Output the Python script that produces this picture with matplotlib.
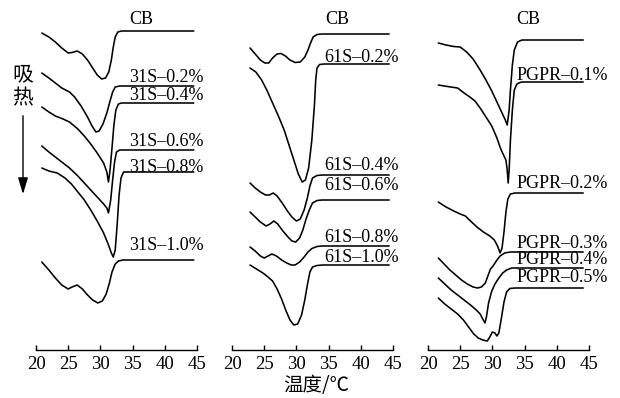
import matplotlib
matplotlib.use("Agg")
import matplotlib.pyplot as plt

plt.rcParams['font.family'] = ['Liberation Serif', 'DejaVu Serif']

# DSC curves, temperature (C) and endothermic depth (arbitrary units, plotted downward)
# ---- panel 1: 31S ----
cb1_t = [20.9, 22.0, 23.0, 24.0, 25.0, 25.6, 26.4, 27.2, 28.0, 28.8, 29.5, 30.2, 30.8, 31.3, 31.7, 32.0, 32.3, 32.7, 33.3, 44.5]
cb1_d = [33, 37, 42, 48, 53, 52.5, 51, 54, 60, 68, 75, 79, 78, 72, 60, 47, 37, 32, 31, 31]
s31_02_t = [20.9, 22.0, 23.0, 24.0, 25.2, 26.0, 27.0, 28.0, 28.7, 29.3, 29.8, 30.4, 31.0, 31.5, 31.9, 32.3, 33.0, 44.5]
s31_02_d = [73, 78, 83, 88, 92, 97, 106, 117, 126, 132, 131, 124, 113, 101, 92, 87, 86, 86]
s31_04_t = [20.9, 22.0, 23.0, 24.2, 25.2, 26.5, 27.5, 28.5, 29.5, 30.5, 31.0, 31.25, 31.5, 31.8, 32.1, 32.4, 32.8, 33.3, 44.5]
s31_04_d = [107, 112, 116, 119, 122, 129, 136, 144, 153, 163, 172, 182, 170, 148, 125, 110, 104, 103, 103]
s31_06_t = [20.9, 22.0, 23.0, 24.0, 25.2, 26.5, 27.5, 28.5, 29.5, 30.5, 31.0, 31.25, 31.6, 31.9, 32.2, 32.5, 33.0, 44.5]
s31_06_d = [146, 152, 157, 162, 168, 176, 183, 190, 197, 204, 208, 213, 200, 180, 162, 152, 150, 150]
s31_08_t = [20.9, 22.0, 23.3, 24.5, 25.5, 26.5, 27.5, 28.5, 29.5, 30.5, 31.2, 31.7, 32.0, 32.3, 32.6, 32.9, 33.2, 33.6, 44.5]
s31_08_d = [168, 171, 173, 178, 184, 192, 200, 210, 221, 233, 244, 253, 257, 250, 225, 195, 178, 172, 172]
s31_10_t = [20.9, 22.0, 23.0, 24.0, 25.0, 25.6, 26.4, 27.2, 28.0, 28.8, 29.6, 30.3, 30.9, 31.4, 31.8, 32.3, 32.8, 33.5, 44.5]
s31_10_d = [262, 270, 278, 285, 289, 287, 285, 289, 295, 300, 303, 301, 294, 283, 272, 264, 261, 260, 260]

# ---- panel 2: 61S ----
cb2_t = [22.8, 23.6, 24.4, 25.1, 25.7, 26.3, 27.0, 27.6, 28.3, 29.0, 29.8, 30.6, 31.3, 31.8, 32.2, 32.6, 33.2, 34.0, 44.4]
cb2_d = [48, 54, 60, 63, 63, 58, 54, 53.5, 56, 60, 62.5, 62, 57, 50, 43, 37, 34.5, 34, 34]
s61_02_t = [22.8, 23.7, 24.6, 25.4, 26.3, 27.2, 28.1, 28.9, 29.7, 30.3, 30.9, 31.4, 31.9, 32.4, 32.8, 33.0, 33.2, 33.6, 34.3, 44.4]
s61_02_d = [68, 72, 80, 90, 103, 116, 130, 146, 162, 174, 182, 180, 168, 140, 105, 80, 68, 64.5, 64, 64]
s61_04_t = [22.8, 23.6, 24.4, 25.2, 25.8, 26.4, 27.0, 27.8, 28.6, 29.3, 30.0, 30.6, 31.2, 31.7, 32.1, 32.5, 33.2, 34.0, 44.4]
s61_04_d = [183, 188, 192, 195, 195, 193, 196, 203, 211, 217, 221, 219, 210, 198, 186, 178, 175.5, 175, 175]
s61_06_t = [22.8, 23.6, 24.4, 25.3, 25.9, 26.5, 27.1, 27.9, 28.7, 29.3, 29.9, 30.5, 31.0, 31.5, 32.0, 32.5, 33.2, 34.0, 44.4]
s61_06_d = [212, 217, 222, 226, 224, 221, 224, 231, 237, 241, 242, 238, 230, 219, 210, 203, 200.5, 200, 200]
s61_08_t = [22.8, 23.6, 24.4, 25.0, 25.6, 26.2, 26.9, 27.7, 28.5, 29.2, 29.8, 30.5, 31.2, 31.8, 32.4, 33.2, 34.0, 44.4]
s61_08_d = [247, 251, 256, 258, 256, 254, 256, 260, 263, 265, 265, 262, 257, 252, 248.5, 246.5, 246, 246]
s61_10_t = [22.8, 23.8, 24.8, 25.6, 26.3, 27.0, 27.7, 28.4, 29.0, 29.6, 30.2, 30.8, 31.3, 31.7, 32.1, 32.5, 33.2, 34.0, 44.4]
s61_10_d = [265, 269, 273, 277, 281, 289, 299, 311, 320, 325, 324, 315, 300, 285, 272, 267, 265.5, 265, 265]

# ---- panel 3: PGPR ----
cb3_t = [21.6, 22.8, 24.0, 25.0, 26.0, 27.0, 28.0, 29.0, 29.9, 30.7, 31.5, 32.0, 32.3, 32.6, 32.8, 33.1, 33.4, 33.9, 34.6, 44.1]
cb3_d = [43, 45, 46.5, 47, 52, 59, 69, 80, 91, 102, 113, 120, 125, 110, 90, 65, 50, 42, 40, 40]
p_01_t = [21.6, 23.0, 24.6, 25.6, 26.5, 27.3, 28.2, 29.0, 29.9, 30.7, 31.3, 31.8, 32.1, 32.3, 32.45, 32.6, 32.8, 33.1, 33.4, 33.8, 34.5, 44.1]
p_01_d = [85, 86.5, 88, 93, 97, 101, 109, 117, 126, 138, 149, 156, 160, 170, 183, 170, 140, 110, 90, 84, 82, 82]
p_02_t = [21.6, 22.8, 24.0, 25.0, 25.8, 26.6, 27.6, 28.6, 29.6, 30.3, 30.8, 31.2, 31.5, 31.8, 32.1, 32.4, 32.8, 33.5, 44.1]
p_02_d = [202, 207, 211, 214, 216, 221, 227, 232, 236, 240, 246, 253, 248, 232, 212, 199, 194, 193, 193]
p_03_t = [21.6, 22.5, 23.4, 24.3, 25.2, 26.1, 27.0, 27.7, 28.3, 28.9, 29.3, 29.7, 30.1, 30.6, 31.2, 31.9, 32.8, 44.1]
p_03_d = [258, 264, 270, 275, 280, 284, 287, 288, 287, 283, 276, 269, 266, 261, 256, 253, 252, 252]
p_04_t = [21.6, 22.6, 23.6, 24.6, 25.6, 26.6, 27.5, 28.1, 28.5, 28.85, 29.1, 29.4, 29.9, 30.4, 31.0, 31.6, 32.2, 33.0, 44.1]
p_04_d = [278, 284, 290, 295, 300, 305, 310, 314, 319, 323, 316, 303, 291, 284, 278, 273, 270, 268, 268]
p_05_t = [21.6, 22.6, 23.6, 24.6, 25.5, 26.3, 27.1, 27.8, 28.5, 29.2, 29.6, 30.0, 30.4, 30.7, 31.0, 31.4, 31.8, 32.2, 32.7, 33.5, 44.1]
p_05_d = [298, 304, 309, 314, 320, 327, 334, 338, 340, 341, 337, 332, 333, 336, 333, 318, 302, 292, 288.5, 288, 288]

labels1 = ["CB", "31S–0.2%", "31S–0.4%", "31S–0.6%", "31S–0.8%", "31S–1.0%"]
labels2 = ["CB", "61S–0.2%", "61S–0.4%", "61S–0.6%", "61S–0.8%", "61S–1.0%"]
labels3 = ["CB", "PGPR–0.1%", "PGPR–0.2%", "PGPR–0.3%", "PGPR–0.4%", "PGPR–0.5%"]

curves1 = [(cb1_t, cb1_d), (s31_02_t, s31_02_d), (s31_04_t, s31_04_d),
           (s31_06_t, s31_06_d), (s31_08_t, s31_08_d), (s31_10_t, s31_10_d)]
curves2 = [(cb2_t, cb2_d), (s61_02_t, s61_02_d), (s61_04_t, s61_04_d),
           (s61_06_t, s61_06_d), (s61_08_t, s61_08_d), (s61_10_t, s61_10_d)]
curves3 = [(cb3_t, cb3_d), (p_01_t, p_01_d), (p_02_t, p_02_d),
           (p_03_t, p_03_d), (p_04_t, p_04_d), (p_05_t, p_05_d)]

# label anchor (x in C, depth) for each curve
pos1 = [(36.4, 19), (34.4, 77), (34.4, 95), (34.4, 142), (34.4, 167), (34.4, 246)]
pos2 = [(36.4, 19), (34.4, 57), (34.4, 165), (34.4, 185), (34.4, 237), (34.4, 258)]
pos3 = [(35.5, 19), (33.7, 75), (33.7, 183), (33.7, 243), (33.7, 260), (33.7, 278)]

fig = plt.figure(figsize=(6.2, 3.98), dpi=100)

panels = [(36, curves1, labels1, pos1), (232, curves2, labels2, pos2), (428, curves3, labels3, pos3)]
for left, curves, labels, pos in panels:
    ax = fig.add_axes([left / 620, 48 / 398, 161 / 620, 350 / 398])
    for (t, d), lab, (lx, ly) in zip(curves, labels, pos):
        ax.plot(t, [-v for v in d], color='black', lw=1.15,
                solid_joinstyle='round', solid_capstyle='round')
        ax.text(lx, -ly, lab, fontsize=13, ha='center' if lab == "CB" else 'left',
                va='center', color='black')
    ax.set_xlim(20, 45)
    ax.set_ylim(-350, 0)
    ax.set_xticks([20, 25, 30, 35, 40, 45])
    ax.set_yticks([])
    for s in ['left', 'right', 'top']:
        ax.spines[s].set_visible(False)
    ax.spines['bottom'].set_linewidth(1.0)
    ax.tick_params(axis='x', direction='in', length=3.5, width=1.0, labelsize=13.5, pad=4)
    ax.patch.set_alpha(0)

cjk = ['Noto Sans CJK SC', 'DejaVu Sans']
fig.text(316 / 620, 1 - 386 / 398, "温度/℃", family=cjk, fontsize=14, ha='center', va='center')
fig.text(23 / 620, 1 - 74 / 398, "吸", family=cjk, fontsize=15, ha='center', va='center')
fig.text(23 / 620, 1 - 98 / 398, "热", family=cjk, fontsize=15, ha='center', va='center')
fig.patches.append(matplotlib.patches.FancyArrowPatch(
    (23 / 620, 1 - 113 / 398), (23 / 620, 1 - 197 / 398), transform=fig.transFigure,
    arrowstyle='-|>,head_length=1.0,head_width=0.3', mutation_scale=10,
    color='black', lw=1.0))

fig.savefig("out.png", dpi=100)
